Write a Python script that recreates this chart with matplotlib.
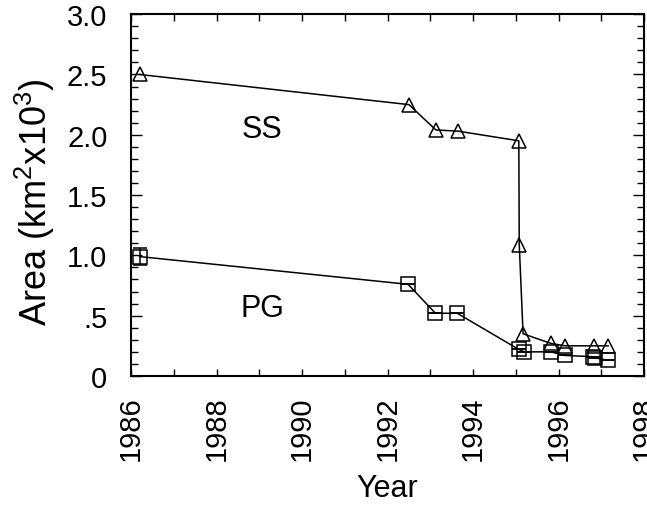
import matplotlib
matplotlib.use("Agg")
import matplotlib.pyplot as plt
from matplotlib.ticker import MultipleLocator, FixedLocator

plt.rcParams.update({
    "font.family": ["Liberation Sans", "DejaVu Sans"],
    "mathtext.fontset": "custom", "mathtext.rm": "Liberation Sans",
    "mathtext.it": "Liberation Sans", "mathtext.bf": "Liberation Sans",
})

# SS (triangles) and PG (squares), area in km^2 x 10^3
ss_year = [1986.2, 1992.5, 1993.13, 1993.65, 1995.07, 1995.08, 1995.17, 1995.82, 1996.15, 1996.83, 1997.16]
ss_area = [2.50, 2.25, 2.04, 2.03, 1.95, 1.09, 0.35, 0.27, 0.25, 0.25, 0.25]
pg_year = [1986.2, 1992.48, 1993.12, 1993.63, 1995.07, 1995.2, 1995.82, 1996.15, 1996.8, 1996.85, 1997.16]
pg_area = [0.99, 0.76, 0.52, 0.52, 0.22, 0.20, 0.20, 0.17, 0.16, 0.15, 0.13]
pg_err = [0.07, 0, 0, 0, 0, 0, 0, 0, 0, 0, 0]

yticks = [0, 0.5, 1.0, 1.5, 2.0, 2.5, 3.0]
ylabels = ["0", ".5", "1.0", "1.5", "2.0", "2.5", "3.0"]
xticks = [1986, 1988, 1990, 1992, 1994, 1996, 1998]

fig = plt.figure(figsize=(6.47, 5.06), dpi=100)
ax = fig.add_axes([0.2025, 0.255, 0.793, 0.715])

ax.plot(ss_year, ss_area, color="black", lw=1.1, marker="^", ms=10,
        mfc="none", mec="black", mew=1.1)
ax.errorbar(pg_year, pg_area, yerr=pg_err, color="black", lw=1.1, marker="s", ms=10,
            mfc="none", mec="black", mew=1.1, capsize=5, elinewidth=1.1)

ax.text(1989.07, 2.05, "SS", fontsize=22, ha="center", va="center")
ax.text(1989.07, 0.56, "PG", fontsize=22, ha="center", va="center")

ax.set_xlim(1986, 1998)
ax.set_ylim(0, 3.0)
ax.xaxis.set_major_locator(FixedLocator(xticks))
ax.xaxis.set_minor_locator(MultipleLocator(1))
ax.set_xticklabels([str(x) for x in xticks], rotation=90, fontsize=21)
ax.yaxis.set_major_locator(FixedLocator(yticks))
ax.yaxis.set_minor_locator(MultipleLocator(0.1))
ax.set_yticklabels(ylabels, fontsize=21)
ax.tick_params(which="both", direction="in", top=True, right=True, width=1.0)
ax.tick_params(axis="x", which="both", length=5, pad=14)
ax.tick_params(axis="y", which="major", length=8, pad=17)
ax.tick_params(axis="y", which="minor", length=5)
for s in ax.spines.values():
    s.set_linewidth(1.5)

ax.set_xlabel("Year", fontsize=22, labelpad=9)
ax.set_ylabel("Area (km$^{2}$x10$^{3}$)", fontsize=26)
ax.yaxis.set_label_coords(-0.145, 0.483)

fig.savefig("out.png", dpi=100)
